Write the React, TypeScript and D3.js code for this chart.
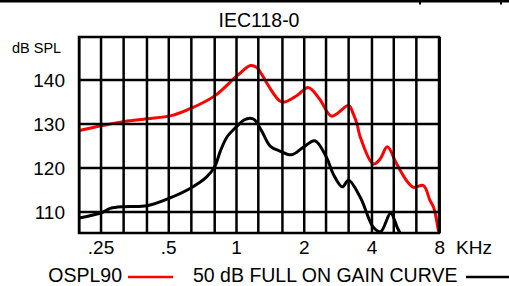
import React from "react";
import * as d3 from "d3";

const TITLE = "IEC118-0";
const Y_TITLE = "dB SPL";
const X_UNIT = "KHz";

const GRID_FREQS = [200, 250, 315, 400, 500, 630, 800, 1000, 1250, 1600, 2000, 2500, 3150, 4000, 5000, 6300, 8000];
const X_TICKS = [250, 500, 1000, 2000, 4000, 8000];
const X_TICK_LABELS = [".25", ".5", "1", "2", "4", "8"];
const Y_TICKS = [110, 120, 130, 140];

const OSPL_FREQ = [200, 251, 318, 400, 513, 630, 800, 1007, 1154, 1227, 1291, 1402, 1553, 1634, 1858, 2084, 2340, 2646, 3149, 3305, 3442, 3535, 4055, 4340, 4681, 5150, 5704, 6110, 6770, 7244, 7547, 7900, 8000];
const OSPL_DB = [128.5, 129.6, 130.6, 131.2, 131.9, 133.6, 136.4, 141.0, 143.3, 142.9, 141.4, 138.3, 135.3, 135.0, 136.5, 138.3, 135.7, 131.8, 134.2, 132.3, 129.8, 127.3, 120.9, 122.0, 124.8, 120.9, 117.1, 115.6, 116.0, 112.6, 110.8, 105.8, 105.0];

const GAIN_FREQ = [200, 251, 275, 318, 400, 513, 630, 735, 800, 850, 909, 1000, 1080, 1150, 1200, 1291, 1416, 1550, 1756, 1980, 2229, 2513, 2692, 2952, 3149, 3558, 4055, 4371, 4842, 5187, 5420];
const GAIN_DB = [108.6, 109.8, 110.8, 111.2, 111.4, 113.3, 115.5, 117.9, 120.3, 124.0, 127.1, 129.4, 130.9, 131.3, 131.0, 128.5, 124.9, 123.9, 123.0, 124.7, 126.2, 122.4, 118.6, 115.7, 117.2, 113.2, 106.5, 105.5, 109.7, 106.4, 104.5];

const LEGEND_OSPL = "OSPL90";
const LEGEND_GAIN = "50 dB FULL ON GAIN CURVE";

const FONT = "'Liberation Sans', Arial, Helvetica, sans-serif";

export default function App() {
  const W = 509;
  const H = 286;
  const left = 79, right = 439, top = 37, bottom = 233;

  const x = d3.scaleLog().domain([Math.pow(10, 2.3), Math.pow(10, 3.9)]).range([left, right]);
  const y = d3.scaleLinear().domain([105.2, 149.8]).range([bottom, top]);

  const line = d3
    .line<[number, number]>()
    .x((d) => x(d[0]))
    .y((d) => y(d[1]))
    .curve(d3.curveCatmullRom.alpha(0.5));

  const osplPath = line(OSPL_FREQ.map((f, i) => [f, OSPL_DB[i]] as [number, number])) || "";
  const gainPath = line(GAIN_FREQ.map((f, i) => [f, GAIN_DB[i]] as [number, number])) || "";

  return (
    <svg
      width={W}
      height={H}
      style={{ position: "absolute", left: 0, top: 0, background: "#fff" }}
      fontFamily={FONT}
    >
      <rect x={0} y={0} width={W} height={H} fill="#fff" />
      <line x1={0} x2={W} y1={1.3} y2={1.3} stroke="#000" strokeWidth={2.5} />
      <line x1={420} x2={420} y1={0} y2={4.5} stroke="#000" strokeWidth={2} />
      <line x1={501} x2={501} y1={0} y2={4.5} stroke="#000" strokeWidth={2} />

      <text x={259} y={27} textAnchor="middle" fontSize={19.5} fill="#000">
        {TITLE}
      </text>
      <text x={12} y={53} fontSize={14.5} fill="#000">
        {Y_TITLE}
      </text>

      <defs>
        <clipPath id="plotClip">
          <rect x={left} y={top} width={right - left} height={bottom - top} />
        </clipPath>
      </defs>

      <g clipPath="url(#plotClip)">
        <path d={osplPath} fill="none" stroke="#ff0000" strokeWidth={3} strokeLinejoin="round" />
        <path d={gainPath} fill="none" stroke="#000" strokeWidth={3} strokeLinejoin="round" />
      </g>

      {GRID_FREQS.map((f) => (
        <line key={"v" + f} x1={x(f)} x2={x(f)} y1={top} y2={bottom} stroke="#000" strokeWidth={2.5} />
      ))}
      {Y_TICKS.map((v) => (
        <line key={"h" + v} x1={left} x2={right} y1={y(v)} y2={y(v)} stroke="#000" strokeWidth={2.5} />
      ))}
      <rect x={left} y={top} width={right - left} height={bottom - top} fill="none" stroke="#000" strokeWidth={2.5} />

      {Y_TICKS.map((v) => (
        <text key={"yl" + v} x={65} y={y(v) + 6.8} textAnchor="end" fontSize={19} fill="#000">
          {v}
        </text>
      ))}

      {X_TICKS.map((f, i) => (
        <text key={"xl" + f} x={x(f)} y={254} textAnchor="middle" fontSize={19} fill="#000">
          {X_TICK_LABELS[i]}
        </text>
      ))}
      <text x={456} y={254} fontSize={19} fill="#000">
        {X_UNIT}
      </text>

      <text x={122} y={282} textAnchor="end" fontSize={19.5} fill="#000">
        {LEGEND_OSPL}
      </text>
      <line x1={128} x2={173} y1={277} y2={277} stroke="#ff0000" strokeWidth={2.5} />
      <text x={193} y={282} fontSize={19.5} fill="#000">
        {LEGEND_GAIN}
      </text>
      <line x1={466} x2={509} y1={277} y2={277} stroke="#000" strokeWidth={2.5} />
    </svg>
  );
}
